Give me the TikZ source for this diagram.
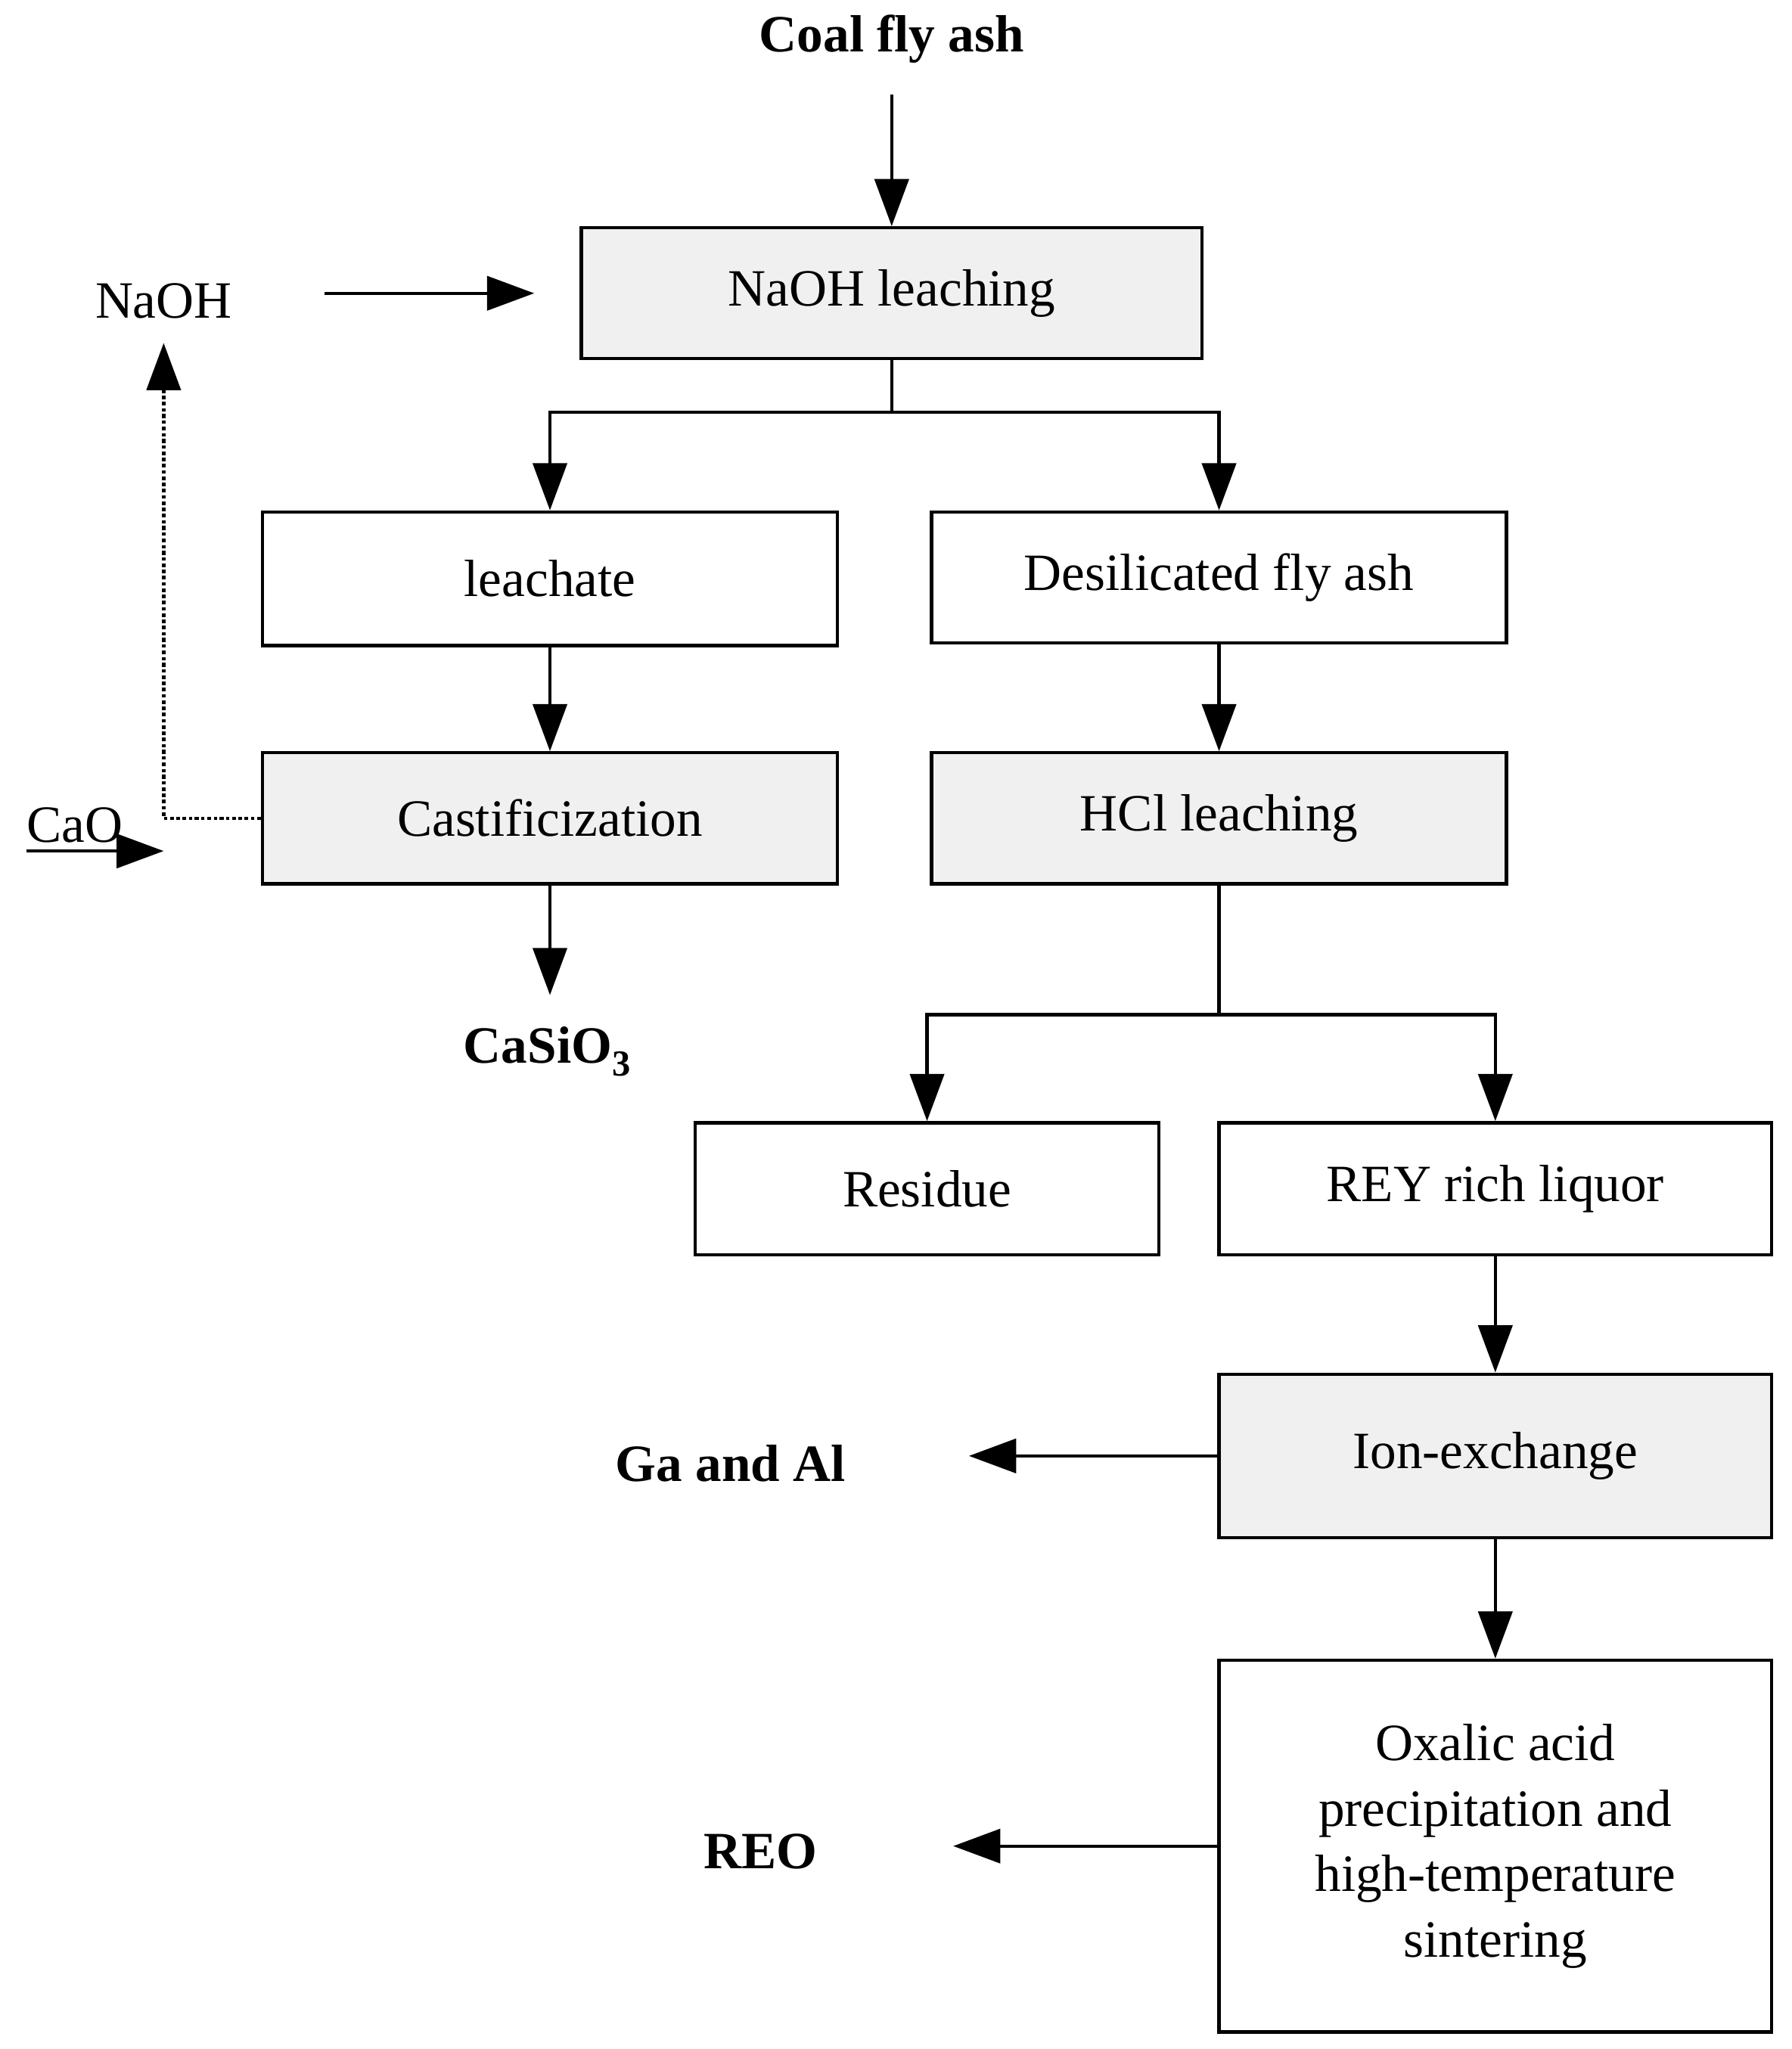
\documentclass[tikz,border=0pt]{standalone}
\usepackage{fontspec}
\setmainfont{Liberation Serif}
\usetikzlibrary{arrows.meta}
\begin{document}
\begin{tikzpicture}[x=1pt,y=-1pt,
 box/.style={draw,line width=2.5pt,inner sep=0pt,font=\fontsize{40}{50}\selectfont,align=center},
 g/.style={box,fill=black!6},
 lbl/.style={font=\fontsize{40}{50}\selectfont},
 blbl/.style={font=\fontsize{40}{50}\selectfont\bfseries},
 ar/.style={line width=2.5pt,-{Triangle[length=36pt,width=26pt]}},
 ln/.style={line width=2.5pt}]
\useasboundingbox (0,0) rectangle (1368,1565);
\node[g,minimum width=474pt,minimum height=100pt] (naohl) at (681,224) {NaOH leaching};
\node[box,minimum width=439pt,minimum height=102pt] (leach) at (420,442) {leachate};
\node[box,minimum width=439pt,minimum height=100pt] (desil) at (931,441) {Desilicated fly ash};
\node[g,minimum width=439pt,minimum height=100pt] (cast) at (420,625) {Castificization};
\node[g,minimum width=439pt,minimum height=100pt] (hcl) at (931,625) {HCl leaching};
\node[box,minimum width=354pt,minimum height=101pt] (res) at (708,908) {Residue};
\node[box,minimum width=422pt,minimum height=101pt] (rey) at (1142,908) {REY rich liquor};
\node[g,minimum width=422pt,minimum height=125pt] (ion) at (1142,1112) {Ion-exchange};
\node[box,minimum width=422pt,minimum height=284pt] (oxa) at (1142,1410) {Oxalic acid\\precipitation and\\high-temperature\\sintering};
\node[blbl] (coal) at (681,30) {Coal fly ash};
\node[lbl] (naoh) at (125,230) {NaOH};
\node[lbl] (cao) at (57,630) {CaO};
\node[blbl] (casio) at (418,803) {CaSiO\textsubscript{3}};
\node[blbl] (ga) at (558,1118) {Ga and Al};
\node[blbl] (reo) at (581,1414) {REO};
\coordinate (s1) at (681,315);
\coordinate (s2) at (931,775);
\coordinate (caoS) at (20,650);
\coordinate (caoE) at (125,650);
\draw[ar] (coal.south |- 0,72) -- (naohl.north);
\draw[ar] (248,224) -- (408,224);
\draw[ln] (naohl.south) -- (s1);
\draw[ar] (s1) -| (leach.north);
\draw[ar] (s1) -| (desil.north);
\draw[ar] (leach) -- (cast);
\draw[ar] (desil) -- (hcl);
\draw[ar] (cast.south) -- (420,760);
\draw[line width=2.5pt,dash dot,-{Triangle[length=36pt,width=26pt]}] (cast.west) -- (125,625) -- (125,262);
\draw[ar] (caoS) -- (caoE);
\draw[ln] (hcl.south) -- (s2);
\draw[ar] (s2) -| (res.north);
\draw[ar] (s2) -| (rey.north);
\draw[ar] (rey) -- (ion);
\draw[ar] (ion.west) -- (740,1112);
\draw[ar] (ion) -- (oxa);
\draw[ar] (oxa.west) -- (728,1410);
\end{tikzpicture}
\end{document}
